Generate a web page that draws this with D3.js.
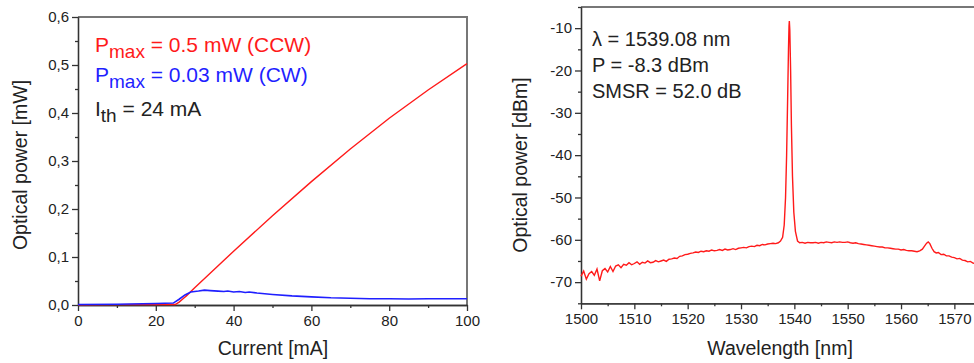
<!DOCTYPE html>
<html>
<head>
<meta charset="utf-8">
<script src="https://cdn.jsdelivr.net/npm/d3@7"></script>
<style>
  body { margin: 0; background: #fff; }
  svg { display: block; font-family: "Liberation Sans", Arial, sans-serif; }
  .tick text { font-size: 15px; fill: #222; }
  .axis path, .axis line { stroke: #333; stroke-width: 1.3; }
  .frame { stroke: #777; stroke-width: 2; fill: none; }
  .axis-label { font-size: 19.5px; fill: #222; }
</style>
</head>
<body>
<div id="chart"></div>
<script>
// L-I curve data (current in mA, power in mW)
var ccwCurrent = [0, 10, 20, 25, 26, 27, 28, 29, 30, 35, 40, 50, 60, 70, 80, 90, 100];
var ccwPower   = [0.0005, 0.0007, 0.001, 0.001, 0.006, 0.013, 0.020, 0.028, 0.036, 0.074, 0.112, 0.186, 0.257, 0.325, 0.389, 0.448, 0.503];
var cwCurrent  = [0, 10, 20, 24.5, 26, 27.5, 29, 31, 32.5, 34, 36, 37.5, 38.5, 40, 41.5, 43, 44, 46, 50, 55, 60, 65, 70, 75, 80, 85, 90, 95, 100];
var cwPower    = [0.001, 0.0015, 0.003, 0.004, 0.012, 0.021, 0.027, 0.029, 0.031, 0.030, 0.029, 0.028, 0.029, 0.027, 0.028, 0.026, 0.027, 0.025, 0.022, 0.019, 0.017, 0.015, 0.014, 0.013, 0.013, 0.0125, 0.013, 0.013, 0.013];

// Optical spectrum (wavelength in nm, power in dBm)
var specWl = [
  1500.0, 1500.5, 1501.0, 1501.5, 1502.0, 1502.5, 1503.0, 1503.5, 1504.0, 1504.5,
  1505.0, 1505.5, 1506.0, 1506.5, 1507.0, 1507.5, 1508.0, 1508.5, 1509.0, 1509.5,
  1510.0, 1510.5, 1511.0, 1511.5, 1512.0, 1512.5, 1513.0, 1513.5, 1514.0, 1514.5,
  1515.0, 1515.5, 1516.0, 1516.5, 1517.0, 1517.5, 1518.0, 1518.5, 1519.0, 1519.5,
  1520.0, 1520.5, 1521.0, 1521.5, 1522.0, 1522.5, 1523.0, 1523.5, 1524.0, 1524.5,
  1525.0, 1525.5, 1526.0, 1526.5, 1527.0, 1527.5, 1528.0, 1528.5, 1529.0, 1529.5,
  1530.0, 1530.5, 1531.0, 1531.5, 1532.0, 1532.5, 1533.0, 1533.5, 1534.0, 1534.5,
  1535.0, 1535.5, 1536.0, 1536.5, 1537.0,
  1537.4, 1537.8, 1538.1, 1538.35, 1538.55, 1538.75, 1538.9, 1539.0, 1539.06, 1539.15,
  1539.3, 1539.45, 1539.65, 1539.9, 1540.2, 1540.6,
  1541.0, 1541.5, 1542.0, 1542.5, 1543.0, 1543.5, 1544.0, 1544.5, 1545.0, 1545.5,
  1546.0, 1546.5, 1547.0, 1547.5, 1548.0, 1548.5, 1549.0, 1549.5, 1550.0, 1550.5,
  1551.0, 1551.5, 1552.0, 1552.5, 1553.0, 1553.5, 1554.0, 1554.5, 1555.0, 1555.5,
  1556.0, 1556.5, 1557.0, 1557.5, 1558.0, 1558.5, 1559.0, 1559.5, 1560.0, 1560.5,
  1561.0, 1561.5, 1562.0, 1562.5, 1563.0, 1563.5, 1564.0, 1564.4, 1564.8, 1565.1,
  1565.4, 1565.8, 1566.2, 1566.6, 1567.0, 1567.5, 1568.0, 1568.5, 1569.0, 1569.5,
  1570.0, 1570.5, 1571.0, 1571.5, 1572.0, 1572.5, 1573.0, 1573.5, 1574.0
];
var specDbm = [
  -68.6, -67.4, -69.3, -68.0, -67.5, -68.4, -66.9, -69.7, -67.3, -66.8,
  -67.6, -66.3, -67.5, -66.2, -65.9, -66.6, -65.8, -66.0, -65.4, -65.9,
  -65.6, -65.2, -65.8, -65.3, -65.5, -65.0, -65.4, -65.3, -64.9, -65.2,
  -65.0, -64.8, -65.1, -64.6, -64.5, -64.3, -64.4, -63.9, -63.8, -63.5,
  -63.4, -63.2, -63.1, -62.9, -63.0, -62.7, -62.8, -62.6, -62.7, -62.4,
  -62.6, -62.5, -62.3, -62.5, -62.2, -62.4, -62.3, -62.1, -62.3, -62.0,
  -61.9, -61.8, -61.9, -61.6, -61.5, -61.6, -61.3, -61.4, -61.1, -61.2,
  -61.0, -60.9, -60.8, -60.9, -60.7,
  -60.3, -59.4, -56.5, -50.0, -40.0, -26.0, -15.0, -9.5, -8.3, -10.5,
  -20.0, -33.0, -45.0, -53.5, -58.0, -60.3,
  -60.7, -60.6, -60.8, -60.6, -60.7, -60.7, -60.6, -60.8, -60.6, -60.7,
  -60.5, -60.6, -60.7, -60.5, -60.6, -60.5, -60.6, -60.6, -60.5, -60.7,
  -60.8, -60.7, -60.9, -61.0, -61.1, -61.2, -61.3, -61.4, -61.5, -61.6,
  -61.7, -61.7, -61.9, -61.9, -62.0, -62.1, -62.2, -62.2, -62.4, -62.3,
  -62.5, -62.6, -62.6, -62.7, -62.8, -62.6, -62.2, -61.5, -60.8, -60.5,
  -60.9, -62.0, -62.8, -63.1, -63.0, -63.5, -63.4, -63.8, -63.8, -64.1,
  -64.2, -64.5, -64.4, -64.8, -64.9, -65.2, -65.1, -65.5, -65.6
];

// Tick values
var liXTicks = [0, 20, 40, 60, 80, 100];
var liXMinor = [10, 30, 50, 70, 90];
var liYTicks = [0, 0.1, 0.2, 0.3, 0.4, 0.5, 0.6];
var liYMinor = [0.05, 0.15, 0.25, 0.35, 0.45, 0.55];
var spXTicks = [1500, 1510, 1520, 1530, 1540, 1550, 1560, 1570];
var spXMinor = [1505, 1515, 1525, 1535, 1545, 1555, 1565];
var spYTicks = [-70, -60, -50, -40, -30, -20, -10];
var spYMinor = [-75, -65, -55, -45, -35, -25, -15, -5];

var W = 974, H = 363;
var svg = d3.select("#chart").append("svg")
  .attr("width", W)
  .attr("height", H);

function addAxes(g, xScale, yScale, width, height, xT, xM, yT, yM, yFmt) {
  g.append("g").attr("class", "axis")
    .attr("transform", "translate(0," + height + ")")
    .call(d3.axisBottom(xScale).tickValues(xM).tickSize(3).tickSizeOuter(0).tickFormat(""));
  g.append("g").attr("class", "axis")
    .attr("transform", "translate(0," + height + ")")
    .call(d3.axisBottom(xScale).tickValues(xT).tickSize(6).tickSizeOuter(0).tickPadding(4).tickFormat(d3.format("d")));
  g.append("g").attr("class", "axis")
    .call(d3.axisLeft(yScale).tickValues(yM).tickSize(3).tickSizeOuter(0).tickFormat(""));
  g.append("g").attr("class", "axis")
    .call(d3.axisLeft(yScale).tickValues(yT).tickSize(6).tickSizeOuter(0).tickPadding(3).tickFormat(yFmt));
}

// ---------- Left chart: L-I curve ----------
var m1 = {left: 78, top: 17};
var w1 = 389, h1 = 288;
var g1 = svg.append("g").attr("transform", "translate(" + m1.left + "," + m1.top + ")");
var x1 = d3.scaleLinear().domain([0, 100]).range([0, w1]);
var y1 = d3.scaleLinear().domain([0, 0.6]).range([h1, 0]);

g1.append("path").attr("class", "frame")
  .attr("d", "M0,0H" + w1 + "V" + h1);

addAxes(g1, x1, y1, w1, h1, liXTicks, liXMinor, liYTicks, liYMinor,
  function(d) { return d3.format(".1f")(d).replace(".", ","); });

var line1 = d3.line()
  .x(function(d) { return x1(d[0]); })
  .y(function(d) { return y1(d[1]); });

g1.append("path")
  .datum(d3.zip(ccwCurrent, ccwPower))
  .attr("fill", "none").attr("stroke", "#ff1a1a").attr("stroke-width", 1.4)
  .attr("d", line1);
g1.append("path")
  .datum(d3.zip(cwCurrent, cwPower))
  .attr("fill", "none").attr("stroke", "#1f1fff").attr("stroke-width", 1.6)
  .attr("d", line1);

// Annotations
var ann1 = g1.append("text").attr("x", 17).attr("y", 35).attr("font-size", 21).attr("fill", "#ff1a1a");
ann1.append("tspan").text("P");
ann1.append("tspan").attr("dy", 6).attr("font-size", 19).text("max");
ann1.append("tspan").attr("dy", -6).text(" = 0.5 mW (CCW)");
var ann2 = g1.append("text").attr("x", 17).attr("y", 65).attr("font-size", 21).attr("fill", "#1f1fff");
ann2.append("tspan").text("P");
ann2.append("tspan").attr("dy", 6).attr("font-size", 19).text("max");
ann2.append("tspan").attr("dy", -6).text(" = 0.03 mW (CW)");
var ann3 = g1.append("text").attr("x", 17).attr("y", 99).attr("font-size", 21).attr("fill", "#222");
ann3.append("tspan").text("I");
ann3.append("tspan").attr("dy", 6).attr("font-size", 19).text("th");
ann3.append("tspan").attr("dy", -6).text(" = 24 mA");

svg.append("text").attr("class", "axis-label")
  .attr("text-anchor", "middle")
  .attr("x", 273).attr("y", 355)
  .text("Current [mA]");
svg.append("text").attr("class", "axis-label")
  .attr("text-anchor", "middle")
  .attr("transform", "translate(27,165)rotate(-90)")
  .text("Optical power [mW]");

// ---------- Right chart: optical spectrum ----------
var m2 = {left: 581, top: 7};
var w2 = 426.7, h2 = 296.3;
var g2 = svg.append("g").attr("transform", "translate(" + m2.left + "," + m2.top + ")");
var x2 = d3.scaleLinear().domain([1500, 1580]).range([0, w2]);
var y2 = d3.scaleLinear().domain([-75, -5]).range([h2, 0]);

g2.append("path").attr("class", "frame")
  .attr("d", "M0,0H" + (W - m2.left));

addAxes(g2, x2, y2, w2, h2, spXTicks, spXMinor, spYTicks, spYMinor, function(d) { return String(d); });

var line2 = d3.line()
  .x(function(d) { return x2(d[0]); })
  .y(function(d) { return y2(d[1]); });

g2.append("path")
  .datum(d3.zip(specWl, specDbm))
  .attr("fill", "none").attr("stroke", "#ff1a1a").attr("stroke-width", 1.4)
  .attr("d", line2);

var ann4 = g2.append("g").attr("font-size", 20).attr("fill", "#222");
ann4.append("text").attr("x", 11).attr("y", 39).text("\u03bb = 1539.08 nm");
ann4.append("text").attr("x", 11).attr("y", 65).text("P = -8.3 dBm");
ann4.append("text").attr("x", 11).attr("y", 91).text("SMSR = 52.0 dB");

svg.append("text").attr("class", "axis-label")
  .attr("text-anchor", "middle")
  .attr("x", 780).attr("y", 355)
  .text("Wavelength [nm]");
svg.append("text").attr("class", "axis-label")
  .attr("text-anchor", "middle")
  .attr("transform", "translate(527,165)rotate(-90)")
  .text("Optical power [dBm]");
</script>
</body>
</html>
